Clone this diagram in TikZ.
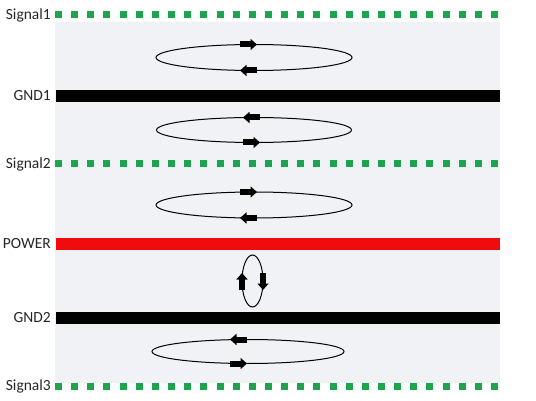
\documentclass[tikz,border=0pt]{standalone}
\usepackage{fontspec}
\setmainfont{Carlito}
\usetikzlibrary{arrows.meta}
\definecolor{siggreen}{RGB}{28,164,78}
\definecolor{pwrred}{RGB}{240,12,12}
\definecolor{boardbg}{RGB}{240,242,245}

\begin{document}
\begin{tikzpicture}[x=1pt,y=-1pt,
  lbl/.style={anchor=east,font=\fontsize{15.5}{17}\selectfont,text=black!85,inner sep=1pt},
  pad/.style={fill=siggreen,minimum size=7pt,inner sep=0pt},
  loop/.style={line width=1pt},
  flow/.style={line width=6pt,-{Triangle[length=6.5pt,width=11pt]}}]
  \useasboundingbox (0,0) rectangle (536,401);

  % board background
  \fill[boardbg] (55,22) rectangle (500,383);

  % signal layers (dotted)
  \foreach \y/\n in {15/1,164/2,386/3}{
    \node[lbl] (sig\n) at (52,\y) {Signal\n};
    \foreach \k in {0,...,27}
      \node[pad] (p\n-\k) at (58.5+16.15*\k,\y) {};
  }

  % planes
  \fill (56,90) rectangle (500,102);
  \node[lbl] (gnd1) at (52,96) {GND1};
  \fill[pwrred] (56,238) rectangle (500,250);
  \node[lbl] (power) at (52,244) {POWER};
  \fill (56,312) rectangle (500,324);
  \node[lbl] (gnd2) at (52,318) {GND2};

  % current loops
  \draw[loop] (254,57.5) ellipse [x radius=98pt,y radius=13pt];
  \draw[flow] (240,44.5) -- (257,44.5);
  \draw[flow] (257,70.5) -- (240,70.5);

  \draw[loop] (254,130) ellipse [x radius=97.5pt,y radius=12.5pt];
  \draw[flow] (260,117.5) -- (243,117.5);
  \draw[flow] (243,142.5) -- (260,142.5);

  \draw[loop] (254,205) ellipse [x radius=98pt,y radius=13pt];
  \draw[flow] (240,192) -- (257,192);
  \draw[flow] (257,218) -- (240,218);

  \draw[loop] (252.5,281) ellipse [x radius=10.5pt,y radius=26pt];
  \draw[flow] (242,290) -- (242,273);
  \draw[flow] (263,273) -- (263,290);

  \draw[loop] (248,351.5) ellipse [x radius=96pt,y radius=12pt];
  \draw[flow] (247,339.5) -- (230,339.5);
  \draw[flow] (230,363.5) -- (247,363.5);
\end{tikzpicture}
\end{document}
